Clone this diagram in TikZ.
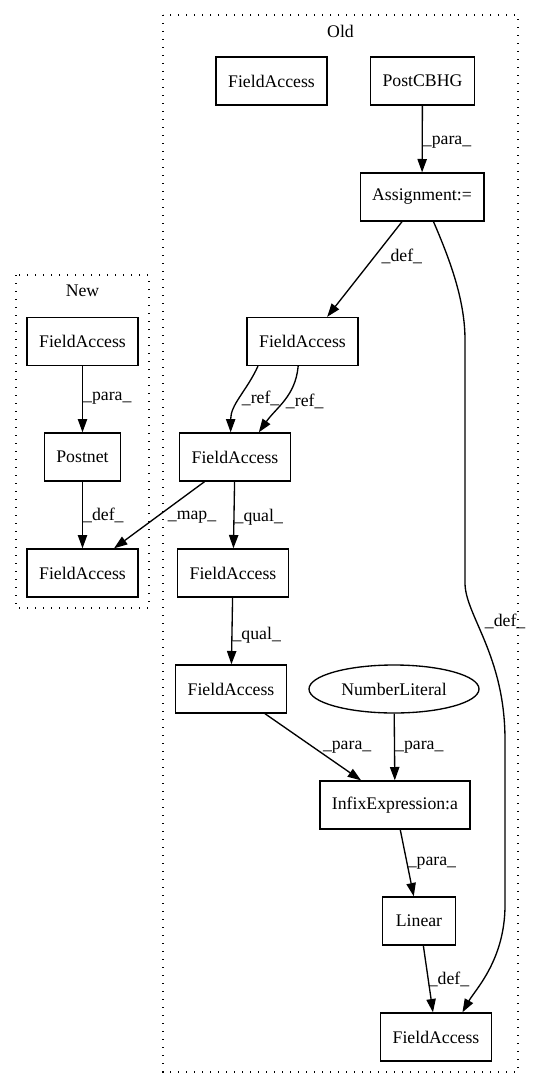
\documentclass[tikz,border=0pt]{standalone}
\usepackage{fontspec}
\setmainfont{Liberation Serif}
\usetikzlibrary{arrows.meta,shapes.geometric}
\newcommand{\gvfont}{\fontsize{13.3}{16}\selectfont}
\tikzset{
	box/.style={draw, rectangle, line width=1pt, minimum height=36pt, inner xsep=9pt, font=\gvfont},
	oval/.style={draw, ellipse, line width=1pt, minimum height=36pt, minimum width=127.5pt, inner sep=0pt, font=\gvfont},
	edge/.style={line width=1pt, -{Triangle[length=10pt, width=7pt]}},
	lbl/.style={anchor=west, inner sep=0pt, font=\gvfont},
	cluster/.style={draw, line width=1pt, dash pattern=on 1pt off 5pt}
}
\begin{document}
\begin{tikzpicture}[x=0.75pt, y=-0.75pt]
		
		\useasboundingbox (0,0) rectangle (533,1088);
		
		% Clusters
		\draw[cluster] (163,15) rectangle (518,1072);
		\draw[cluster] (16,275) rectangle (149,608);
		\node[font=\gvfont] (oldlbl) at (340.5,31) {Old};
		\node[font=\gvfont] (newlbl) at (82.5,291) {New};
		
		% Nodes (Old)
		\node[box] (fa0) at (271.5,81) {FieldAccess};
		\node[box] (pcb) at (422.5,81) {PostCBHG};
		\node[box] (asg) at (422,197) {Assignment:=};
		\node[box] (fa1) at (302.5,341.5) {FieldAccess};
		\node[box] (fa2) at (235,457) {FieldAccess};
		\node[box] (fa3) at (233,573) {FieldAccess};
		\node[box] (fa4) at (231,689) {FieldAccess};
		\node[oval] (num) at (394,689) {NumberLiteral};
		\node[box, minimum width=112pt] (inf) at (395,805) {InfixExpression:a};
		\node[box, minimum width=55pt] (lin) at (419,921) {Linear};
		\node[box] (fab) at (436,1037) {FieldAccess};
		
		% Nodes (New)
		\node[box] (nfa) at (82.5,341.5) {FieldAccess};
		\node[box] (pst) at (82.5,457) {Postnet};
		\node[box] (nfb) at (82.5,573) {FieldAccess};
		
		% Edges
		\draw[edge] (pcb) -- node[lbl, pos=0.55] {\_para\_} (asg);
		\draw[edge] (asg.231) -- node[lbl, pos=0.37, xshift=5pt] {\_def\_} (fa1.45);
		\draw[edge] (asg.-65) .. controls (450,260) and (465,300) .. (465,340) -- (465,583)
			.. controls (465,615) and (505,655) .. node[lbl, pos=0.35, xshift=6pt] {\_def\_} (505,740)
			-- (505,905) .. controls (505,960) and (475,990) .. (fab.43);
		\draw[edge] (fa1.209) to[out=-115, in=90] node[lbl, pos=0.5, xshift=1pt] {\_ref\_} (fa2.100);
		\draw[edge] (fa1.-100) to[out=-95, in=55] node[lbl, pos=0.5, xshift=1pt] {\_ref\_} (fa2.46);
		\draw[edge] (fa2.219) -- node[lbl, pos=0.53, xshift=8pt] {\_map\_} (nfb.38);
		\draw[edge] (fa2) -- node[lbl, pos=0.53] {\_qual\_} (fa3);
		\draw[edge] (fa3) -- node[lbl, pos=0.56] {\_qual\_} (fa4);
		\draw[edge] (fa4.-36) -- node[lbl, pos=0.5, xshift=7pt] {\_para\_} (inf.144);
		\draw[edge] (num) -- node[lbl, pos=0.5] {\_para\_} (inf);
		\draw[edge] (inf.-78) -- node[lbl, pos=0.51] {\_para\_} (lin.102);
		\draw[edge] (lin.-80) -- node[lbl, pos=0.5] {\_def\_} (fab.97);
		\draw[edge] (nfa) -- node[lbl, pos=0.48] {\_para\_} (pst);
		\draw[edge] (pst) -- node[lbl, pos=0.5] {\_def\_} (nfb);
		
	\end{tikzpicture}
\end{document}
